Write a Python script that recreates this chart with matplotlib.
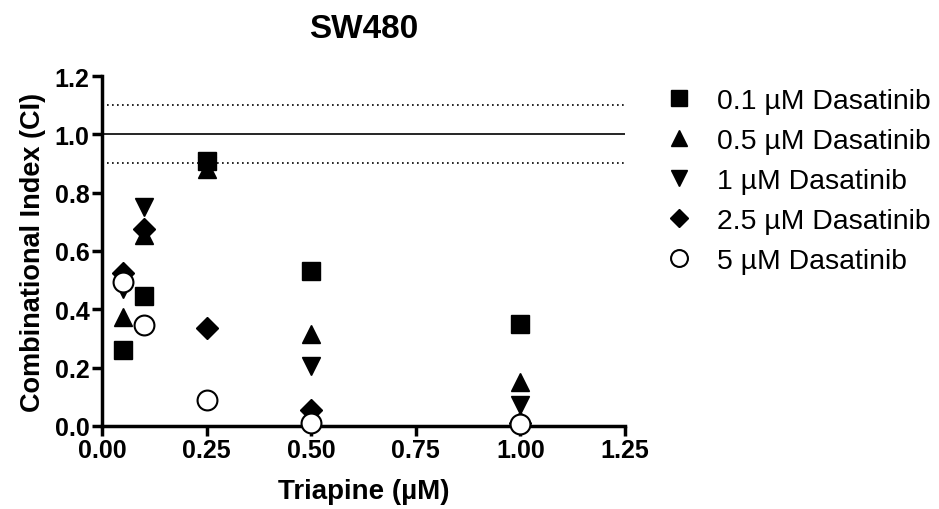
import matplotlib
matplotlib.use("Agg")
import matplotlib.pyplot as plt

plt.rcParams['font.family'] = ['Liberation Sans', 'DejaVu Sans']

# Triapine concentrations (uM)
x = [0.05, 0.1, 0.25, 0.5, 1.0]

# combinational index per dasatinib dose
ci_01 = [0.26, 0.445, 0.91, 0.53, 0.35]
ci_05 = [0.375, 0.655, 0.88, 0.315, 0.15]
ci_1 = [0.47, 0.75, 0.89, 0.205, 0.07]
ci_25 = [0.525, 0.675, 0.335, 0.055, 0.01]
ci_5 = [0.495, 0.345, 0.09, 0.01, 0.005]

labels = ["0.1 µM Dasatinib", "0.5 µM Dasatinib", "1 µM Dasatinib",
          "2.5 µM Dasatinib", "5 µM Dasatinib"]

fig = plt.figure(figsize=(9.39, 5.10), dpi=100)
ax = fig.add_axes([0.1086, 0.163, 0.557, 0.686])

ax.axhline(1.0, color="black", lw=1.2, zorder=1)
ax.axhline(1.1, color="black", lw=1.2, ls=(0, (1, 2)), zorder=1)
ax.axhline(0.9, color="black", lw=1.2, ls=(0, (1, 2)), zorder=1)

ms = 13
ax.plot(x, ci_01, "s", color="black", ms=ms, label=labels[0], clip_on=False, zorder=3)
ax.plot(x, ci_05, "^", color="black", ms=ms, label=labels[1], clip_on=False, zorder=3)
ax.plot(x, ci_1, "v", color="black", ms=ms, label=labels[2], clip_on=False, zorder=3)
ax.plot(x, ci_25, "D", color="black", ms=ms * 0.85, label=labels[3], clip_on=False, zorder=3)
ax.plot(x, ci_5, "o", mfc="white", mec="black", mew=1.5, ms=ms * 1.1, label=labels[4],
        clip_on=False, zorder=4)

ax.set_xlim(0, 1.25)
ax.set_ylim(0, 1.2)
ax.set_xticks([0, 0.25, 0.5, 0.75, 1.0, 1.25])
ax.set_xticklabels(["0.00", "0.25", "0.50", "0.75", "1.00", "1.25"])
ax.set_yticks([0, 0.2, 0.4, 0.6, 0.8, 1.0, 1.2])
ax.set_yticklabels(["0.0", "0.2", "0.4", "0.6", "0.8", "1.0", "1.2"])

for s in ["top", "right"]:
    ax.spines[s].set_visible(False)
for s in ["left", "bottom"]:
    ax.spines[s].set_linewidth(2.5)
ax.tick_params(width=2.5, length=7, labelsize=18, pad=2)
for lab in ax.get_xticklabels() + ax.get_yticklabels():
    lab.set_fontweight("bold")

ax.set_xlabel("Triapine (µM)", fontsize=20, fontweight="bold", labelpad=11)
ax.set_ylabel("Combinational Index (CI)", fontsize=19.5, fontweight="bold", labelpad=6)
ax.set_title("SW480", fontsize=24, fontweight="bold", pad=28)

ax.legend(loc="upper left", bbox_to_anchor=(1.012, 1.04), frameon=False,
          fontsize=20.4, handlelength=1.6, handletextpad=0.52, labelspacing=0.5,
          markerscale=0.85)

fig.savefig("out.png", dpi=100)
